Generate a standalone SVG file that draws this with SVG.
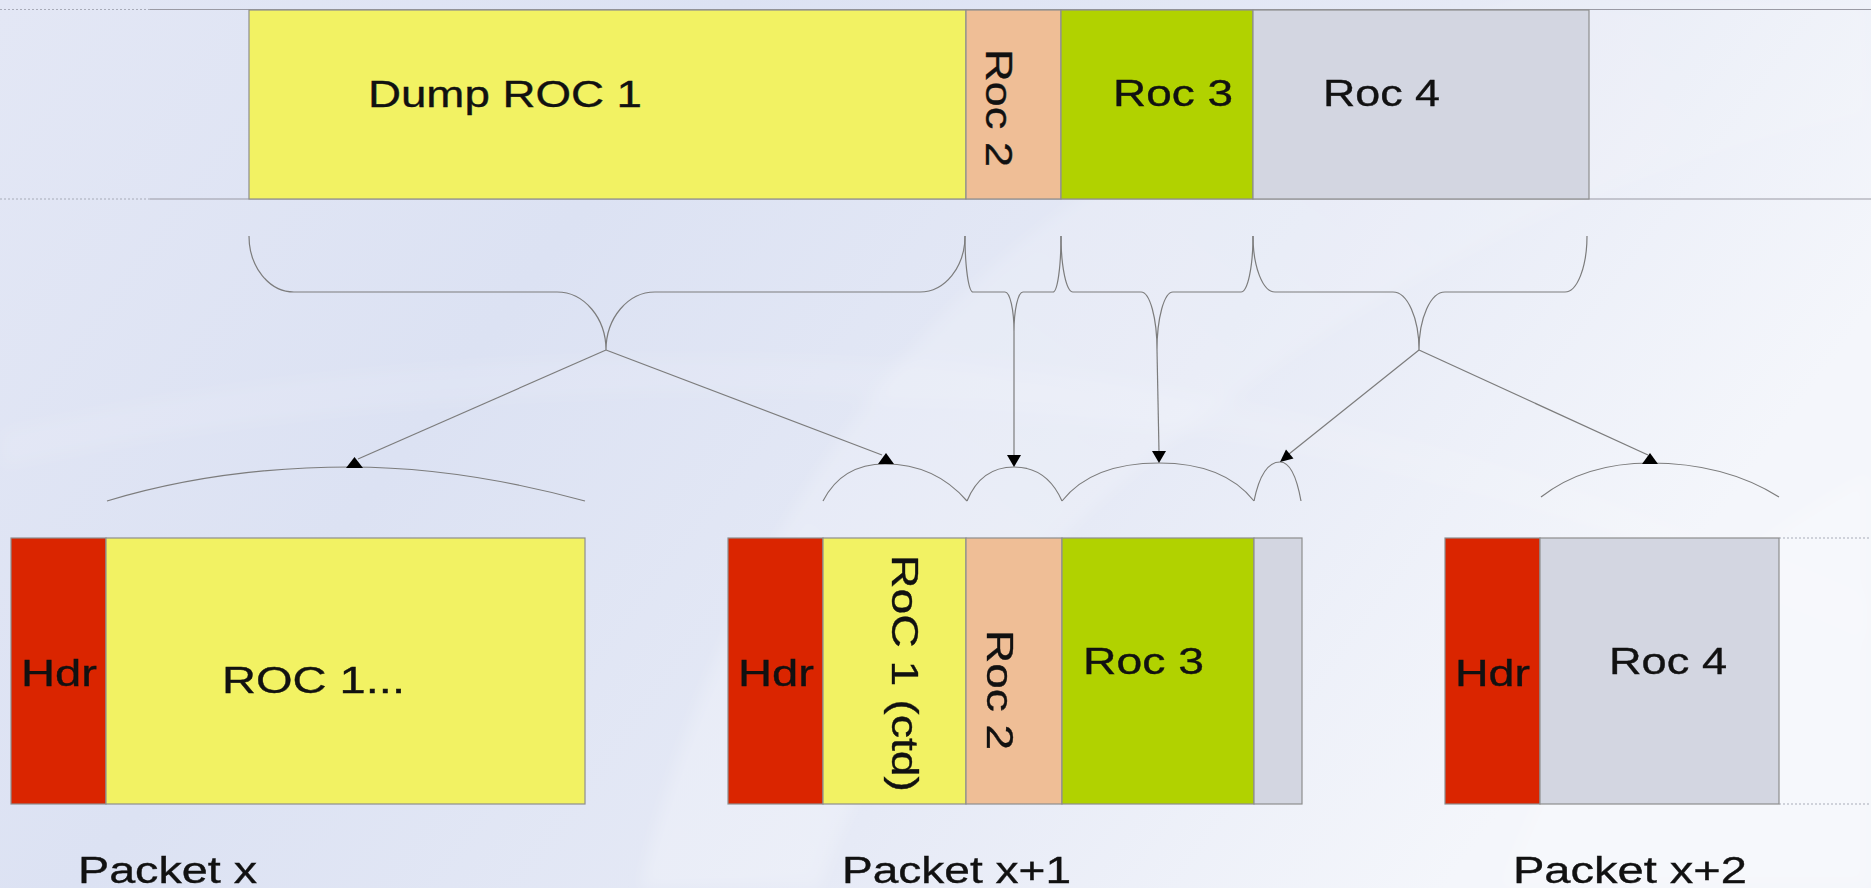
<svg xmlns="http://www.w3.org/2000/svg" width="1871" height="888" viewBox="0 0 1871 888">
  <defs>
    <linearGradient id="bg" x1="0" y1="0" x2="1" y2="0.35">
      <stop offset="0" stop-color="#e3e7f5"/>
      <stop offset="0.35" stop-color="#dce2f3"/>
      <stop offset="0.7" stop-color="#e6eaf6"/>
      <stop offset="1" stop-color="#f4f6fb"/>
    </linearGradient>
    <linearGradient id="swoosh" x1="0" y1="1" x2="1" y2="0">
      <stop offset="0" stop-color="#ffffff" stop-opacity="0.5"/>
      <stop offset="1" stop-color="#ffffff" stop-opacity="0.15"/>
    </linearGradient>
    <filter id="soft" x="-5%" y="-5%" width="110%" height="110%">
      <feGaussianBlur stdDeviation="8"/>
    </filter>
    <style>
      .txt { font-family: "Liberation Sans", Arial, sans-serif; font-size: 37px; fill: #111; stroke: #111; stroke-width: 0.35; }
      .box { stroke: #8e8e8e; stroke-width: 1.2; }
      .yellow { fill: #f2f263; }
      .peach { fill: #efbe96; }
      .green { fill: #b1d200; }
      .grey { fill: #d3d6e1; }
      .red { fill: #da2500; }
      .rule { stroke: #9a9aa4; stroke-width: 1.2; fill: none; }
      .dots { stroke: #a8abb8; stroke-width: 1.2; stroke-dasharray: 2 2; fill: none; }
      .wire { stroke: #7c7c7c; stroke-width: 1.2; fill: none; }
      .head { fill: #000; }
    </style>
  </defs>

  <!-- backdrop -->
  <rect x="0" y="0" width="1871" height="888" fill="url(#bg)"/>
  <g filter="url(#soft)">
    <path d="M640,888 C700,640 820,420 1000,260 C1150,130 1350,40 1520,0 L1871,0 L1871,120 C1600,160 1300,320 1080,520 C950,640 860,760 820,888 Z" fill="url(#swoosh)" opacity="0.5"/>
    <path d="M1500,888 C1560,700 1700,560 1871,470 L1871,888 Z" fill="#ffffff" opacity="0.22"/>
    <path d="M0,430 C300,360 700,330 1100,380 C1400,420 1650,500 1871,600 L1871,640 C1650,540 1400,460 1100,420 C700,370 300,400 0,470 Z" fill="#ffffff" opacity="0.1"/>
  </g>

  <!-- top bar rules -->
  <g id="top-rules">
    <line class="dots" x1="0" y1="9.5" x2="150" y2="9.5"/>
    <line class="dots" x1="0" y1="199" x2="150" y2="199"/>
    <line class="rule" x1="150" y1="9.5" x2="1871" y2="9.5"/>
    <line class="rule" x1="150" y1="199" x2="1871" y2="199"/>
  </g>

  <!-- top bar segments -->
  <g id="dump-roc1">
    <rect class="box yellow" x="249" y="10" width="717" height="189"/>
    <text class="txt" x="368" y="107" textLength="274" lengthAdjust="spacingAndGlyphs">Dump ROC 1</text>
  </g>
  <g id="top-roc2">
    <rect class="box peach" x="966" y="10" width="95" height="189"/>
    <text class="txt" transform="translate(986,49) rotate(90)" x="0" y="0" textLength="118" lengthAdjust="spacingAndGlyphs">Roc 2</text>
  </g>
  <g id="top-roc3">
    <rect class="box green" x="1061" y="10" width="192" height="189"/>
    <text class="txt" x="1113" y="106" textLength="120" lengthAdjust="spacingAndGlyphs">Roc 3</text>
  </g>
  <g id="top-roc4">
    <rect class="box grey" x="1253" y="10" width="336" height="189"/>
    <text class="txt" x="1323" y="106" textLength="117" lengthAdjust="spacingAndGlyphs">Roc 4</text>
  </g>

  <!-- packet x -->
  <g id="packet-x">
    <rect class="box red" x="11" y="538" width="95" height="266"/>
    <rect class="box yellow" x="106" y="538" width="479" height="266"/>
    <text class="txt" x="21" y="686" textLength="76" lengthAdjust="spacingAndGlyphs">Hdr</text>
    <text class="txt" x="222" y="693" textLength="183" lengthAdjust="spacingAndGlyphs">ROC 1...</text>
    <text class="txt" x="78" y="883" textLength="179" lengthAdjust="spacingAndGlyphs">Packet x</text>
  </g>

  <!-- packet x+1 -->
  <g id="packet-x1">
    <rect class="box red" x="728" y="538" width="95" height="266"/>
    <rect class="box yellow" x="823" y="538" width="143" height="266"/>
    <rect class="box peach" x="966" y="538" width="96" height="266"/>
    <rect class="box green" x="1062" y="538" width="192" height="266"/>
    <rect class="box grey" x="1254" y="538" width="48" height="266"/>
    <text class="txt" x="738" y="686" textLength="76" lengthAdjust="spacingAndGlyphs">Hdr</text>
    <text class="txt" transform="translate(892,555) rotate(90)" x="0" y="0" textLength="237" lengthAdjust="spacingAndGlyphs">RoC 1 (ctd)</text>
    <text class="txt" transform="translate(987,630) rotate(90)" x="0" y="0" textLength="120" lengthAdjust="spacingAndGlyphs">Roc 2</text>
    <text class="txt" x="1083" y="674" textLength="121" lengthAdjust="spacingAndGlyphs">Roc 3</text>
    <text class="txt" x="842" y="883" textLength="229" lengthAdjust="spacingAndGlyphs">Packet x+1</text>
  </g>

  <!-- packet x+2 -->
  <g id="packet-x2">
    <line class="dots" x1="1779" y1="538" x2="1871" y2="538"/>
    <line class="dots" x1="1779" y1="804" x2="1871" y2="804"/>
    <rect class="box red" x="1445" y="538" width="95" height="266"/>
    <rect class="box grey" x="1540" y="538" width="239" height="266"/>
    <text class="txt" x="1455" y="686" textLength="75" lengthAdjust="spacingAndGlyphs">Hdr</text>
    <text class="txt" x="1609" y="674" textLength="118" lengthAdjust="spacingAndGlyphs">Roc 4</text>
    <text class="txt" x="1513" y="883" textLength="234" lengthAdjust="spacingAndGlyphs">Packet x+2</text>
  </g>

  <!-- braces, target arcs and arrows -->
  <g id="connectors">
    <!-- braces under the top bar -->
    <path class="wire" d="M249,236 A45,56 0 0 0 294,292 L557,292 A49,58 0 0 1 606,350 A49,58 0 0 1 655,292 L920,292 A45,56 0 0 0 965,236"/>
    <path class="wire" d="M965,236 A8,56 0 0 0 973,292 L1005,292 A9,40 0 0 1 1014,332 L1014,350 M1014,332 A9,40 0 0 1 1023,292 L1053,292 A8,56 0 0 0 1061,236"/>
    <path class="wire" d="M1061,236 A12,56 0 0 0 1073,292 L1141,292 A16,58 0 0 1 1157,350 A16,58 0 0 1 1173,292 L1241,292 A12,56 0 0 0 1253,236"/>
    <path class="wire" d="M1253,236 A22,56 0 0 0 1275,292 L1393,292 A26,58 0 0 1 1419,350 A26,58 0 0 1 1445,292 L1565,292 A22,56 0 0 0 1587,236"/>

    <!-- arcs over the packet payloads -->
    <path class="wire" d="M107,501 Q220,467 350,467 Q460,467 585,501"/>
    <path class="wire" d="M823,501 Q842,464 885,464 Q935,464 967,501"/>
    <path class="wire" d="M967,501 Q981,467 1014,467 Q1047,467 1062,501"/>
    <path class="wire" d="M1062,501 Q1092,463 1159,463 Q1224,463 1254,501"/>
    <path class="wire" d="M1254,501 Q1262,462 1280,462 Q1294,462 1301,501"/>
    <path class="wire" d="M1541,497 Q1585,463 1650,463 Q1725,463 1779,497"/>

    <!-- links -->
    <line class="wire" x1="606" y1="350" x2="358" y2="459"/>
    <line class="wire" x1="606" y1="350" x2="882" y2="455"/>
    <line class="wire" x1="1014" y1="350" x2="1014" y2="456"/>
    <line class="wire" x1="1157" y1="350" x2="1159" y2="452"/>
    <line class="wire" x1="1419" y1="350" x2="1289" y2="454"/>
    <line class="wire" x1="1419" y1="350" x2="1648" y2="455"/>

    <!-- arrowheads -->
    <polygon class="head" points="354.5,457 346,468 363,468"/>
    <polygon class="head" points="886,453 878,464 894,464"/>
    <polygon class="head" points="1007,455 1021,455 1014,467"/>
    <polygon class="head" points="1152,451 1166,451 1159,463"/>
    <polygon class="head" points="1280,462 1293.5,458.5 1286,449.5"/>
    <polygon class="head" points="1650,453 1642,464 1658,464"/>
  </g>
</svg>
